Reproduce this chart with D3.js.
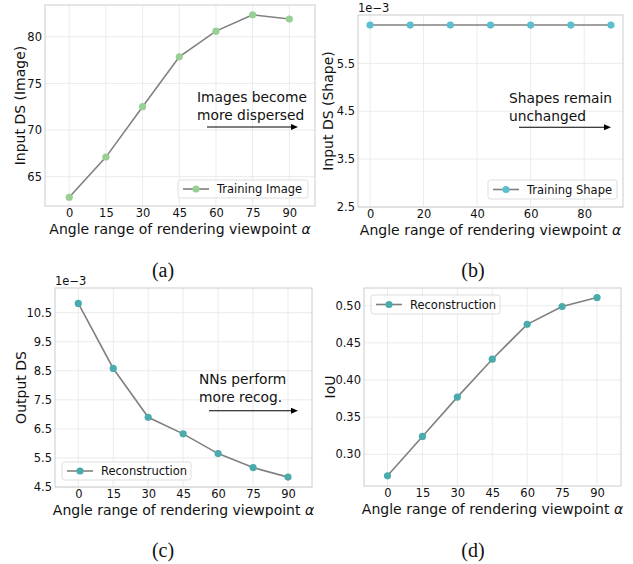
<!DOCTYPE html>
<html>
<head>
<meta charset="utf-8">
<script src="https://cdn.jsdelivr.net/npm/d3@7"></script>
<style>
  body { margin: 0; background: #fff; }
  text { font-family: "DejaVu Sans", sans-serif; fill: #111; }
</style>
</head>
<body>
<div id="chart"></div>
<script>
// data
var angles = [0, 15, 30, 45, 60, 75, 90];
var imageDS = [62.8, 67.1, 72.5, 77.85, 80.6, 82.35, 81.9];
var shapeDS = [6.3, 6.3, 6.3, 6.3, 6.3, 6.3, 6.3];          // x 1e-3
var outputDS = [10.82, 8.58, 6.9, 6.33, 5.65, 5.17, 4.84];   // x 1e-3
var iou = [0.271, 0.324, 0.377, 0.428, 0.475, 0.499, 0.511];

var angleTicks = [0, 15, 30, 45, 60, 75, 90];
var shapeAngleTicks = [0, 20, 40, 60, 80];
var imageTicks = [65, 70, 75, 80];
var shapeTicks = [2.5, 3.5, 4.5, 5.5];
var outputTicks = [4.5, 5.5, 6.5, 7.5, 8.5, 9.5, 10.5];
var iouTicks = [0.30, 0.35, 0.40, 0.45, 0.50];

var svg = d3.select("#chart").append("svg")
    .attr("width", 633)
    .attr("height", 564);

function drawPanel(p) {
    var x = d3.scaleLinear().domain(p.xDomain).range([p.left, p.right]);
    var y = d3.scaleLinear().domain(p.yDomain).range([p.bottom, p.top]);
    var g = svg.append("g");

    // grid
    g.selectAll(".gx").data(p.xTicks).enter().append("line")
        .attr("x1", function(d) { return x(d); }).attr("x2", function(d) { return x(d); })
        .attr("y1", p.top).attr("y2", p.bottom)
        .attr("stroke", "#ebebeb").attr("stroke-width", 1);
    g.selectAll(".gy").data(p.yTicks).enter().append("line")
        .attr("x1", p.left).attr("x2", p.right)
        .attr("y1", function(d) { return y(d); }).attr("y2", function(d) { return y(d); })
        .attr("stroke", "#ebebeb").attr("stroke-width", 1);

    // axes (no tick marks, just labels)
    var xa = g.append("g")
        .attr("transform", "translate(0," + p.bottom + ")")
        .call(d3.axisBottom(x).tickValues(p.xTicks).tickSize(0).tickPadding(3).tickFormat(d3.format("d")));
    var ya = g.append("g")
        .attr("transform", "translate(" + p.left + ",0)")
        .call(d3.axisLeft(y).tickValues(p.yTicks).tickSize(0).tickPadding(3).tickFormat(p.yFmt));
    [xa, ya].forEach(function(a) {
        a.select(".domain").remove();
        a.selectAll("text").attr("font-size", 11.5).attr("fill", "#111")
            .attr("font-family", "DejaVu Sans, sans-serif");
    });

    // frame
    g.append("rect")
        .attr("x", p.left).attr("y", p.top)
        .attr("width", p.right - p.left).attr("height", p.bottom - p.top)
        .attr("fill", "none").attr("stroke", "#cccccc").attr("stroke-width", 1);

    // line + markers
    var pts = angles.map(function(a, i) { return [a, p.values[i]]; });
    g.append("path")
        .datum(pts)
        .attr("fill", "none")
        .attr("stroke", "#808080")
        .attr("stroke-width", 1.6)
        .attr("d", d3.line().x(function(d) { return x(d[0]); }).y(function(d) { return y(d[1]); }));
    g.selectAll(".pt").data(pts).enter().append("circle")
        .attr("cx", function(d) { return x(d[0]); })
        .attr("cy", function(d) { return y(d[1]); })
        .attr("r", 3.6)
        .attr("fill", p.color);

    // labels
    var xl = g.append("text")
        .attr("x", (p.left + p.right) / 2).attr("y", p.bottom + 28)
        .attr("text-anchor", "middle").attr("font-size", 14);
    xl.append("tspan").text("Angle range of rendering viewpoint ");
    xl.append("tspan").attr("font-style", "italic").text("\u03b1");
    g.append("text")
        .attr("transform", "translate(" + p.yLabelX + "," + ((p.top + p.bottom) / 2) + ") rotate(-90)")
        .attr("text-anchor", "middle").attr("dominant-baseline", "central").attr("font-size", 14)
        .text(p.yLabel);
    if (p.offset) {
        g.append("text")
            .attr("x", p.left).attr("y", p.top - 3)
            .attr("font-size", 11.5)
            .text("1e\u22123");
    }

    // legend
    var L = p.legend;
    g.append("rect")
        .attr("x", L.x).attr("y", L.y).attr("width", L.w).attr("height", L.h)
        .attr("rx", 2.5).attr("fill", "#fff").attr("fill-opacity", 0.8)
        .attr("stroke", "#dddddd").attr("stroke-width", 1);
    var ly = L.y + L.h / 2;
    g.append("line")
        .attr("x1", L.x + 5).attr("x2", L.x + 31).attr("y1", ly).attr("y2", ly)
        .attr("stroke", "#808080").attr("stroke-width", 1.6);
    g.append("circle").attr("cx", L.x + 18).attr("cy", ly).attr("r", 3.6).attr("fill", p.color);
    g.append("text")
        .attr("x", L.x + 39).attr("y", ly).attr("dominant-baseline", "central")
        .attr("font-size", 11.5)
        .text(p.series);

    // annotation
    if (p.note) {
        var n = p.note;
        n.lines.forEach(function(t, i) {
            g.append("text")
                .attr("x", n.x).attr("y", n.y + i * 18)
                .attr("font-size", 13.8)
                .text(t);
        });
        g.append("line")
            .attr("x1", n.ax1).attr("x2", n.ax2 - 6).attr("y1", n.ay).attr("y2", n.ay)
            .attr("stroke", "#000").attr("stroke-width", 1.1);
        g.append("path")
            .attr("d", "M" + n.ax2 + "," + n.ay + " l-7,-3 l0,6 z")
            .attr("fill", "#000");
    }

    // caption
    svg.append("text")
        .attr("x", p.capX).attr("y", p.capY)
        .attr("text-anchor", "middle")
        .style("font-family", "'Liberation Serif', 'Times New Roman', serif")
        .attr("font-size", 20)
        .text(p.caption);
}

drawPanel({
    left: 45, right: 315, top: 5, bottom: 206,
    xDomain: [-9.9, 100.5], yDomain: [61.86, 83.4],
    xTicks: angleTicks, yTicks: imageTicks, yFmt: d3.format("d"),
    values: imageDS, color: "#98cf93",
    yLabel: "Input DS (Image)", yLabelX: 20,
    series: "Training Image",
    legend: { x: 178, y: 180, w: 130, h: 18 },
    note: { lines: ["Images become", "more dispersed"], x: 197, y: 101.5, ax1: 207, ax2: 298, ay: 127 },
    caption: "(a)", capX: 163, capY: 277
});

drawPanel({
    left: 358, right: 623, top: 15, bottom: 207,
    xDomain: [-4.5, 94.5], yDomain: [2.5, 6.51],
    xTicks: shapeAngleTicks, yTicks: shapeTicks, yFmt: d3.format(".1f"),
    values: shapeDS, color: "#5bbfd0",
    yLabel: "Input DS (Shape)", yLabelX: 328,
    offset: true,
    series: "Training Shape",
    legend: { x: 488, y: 180, w: 129, h: 19 },
    note: { lines: ["Shapes remain", "unchanged"], x: 509, y: 103.3, ax1: 519, ax2: 611, ay: 127.3 },
    caption: "(b)", capX: 473, capY: 277
});

drawPanel({
    left: 55, right: 312, top: 288, bottom: 487,
    xDomain: [-10, 100.3], yDomain: [4.5, 11.35],
    xTicks: angleTicks, yTicks: outputTicks, yFmt: d3.format(".1f"),
    values: outputDS, color: "#49abab",
    yLabel: "Output DS", yLabelX: 21,
    offset: true,
    series: "Reconstruction",
    legend: { x: 62, y: 462, w: 129, h: 18 },
    note: { lines: ["NNs perform", "more recog."], x: 199, y: 384, ax1: 209, ax2: 298, ay: 410.7 },
    caption: "(c)", capX: 163, capY: 557
});

drawPanel({
    left: 364, right: 621, top: 288, bottom: 486,
    xDomain: [-10.1, 100.3], yDomain: [0.2573, 0.5239],
    xTicks: angleTicks, yTicks: iouTicks, yFmt: d3.format(".2f"),
    values: iou, color: "#49abab",
    yLabel: "IoU", yLabelX: 330,
    series: "Reconstruction",
    legend: { x: 371, y: 295, w: 129, h: 19 },
    caption: "(d)", capX: 473, capY: 557
});
</script>
</body>
</html>
